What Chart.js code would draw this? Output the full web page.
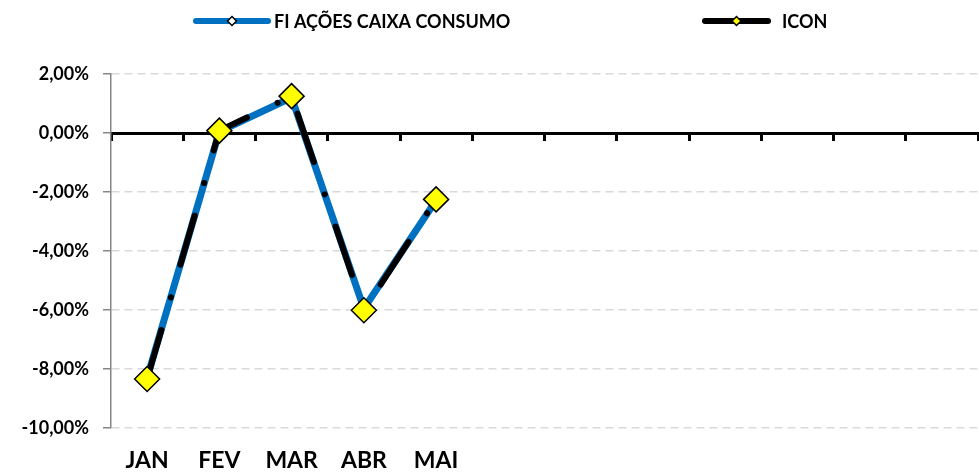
<!DOCTYPE html>
<html>
<head>
<meta charset="utf-8">
<script src="https://cdn.jsdelivr.net/npm/chart.js@4.4.1/dist/chart.umd.min.js"></script>
<style>
  html, body { margin: 0; padding: 0; background: #fff; }
  #wrap { width: 979px; height: 473px; }
</style>
</head>
<body>
<div id="wrap"><canvas id="perfChart"></canvas></div>
<script>
// monthly returns (%)
const months = ['JAN', 'FEV', 'MAR', 'ABR', 'MAI', '', '', '', '', '', '', ''];
const fundReturns = [-8.30, 0.05, 1.20, -5.95, -2.28];
const iconReturns = [-8.34, 0.08, 1.25, -6.01, -2.25];
const yMin = -10, yMax = 2, yStep = 2;

const FONT = 'Lato, "Open Sans", sans-serif';

function pct(v) {
    return v.toFixed(2).replace('.', ',') + '%';
}

function diamond(ctx, x, y, r, fill) {
    ctx.beginPath();
    ctx.moveTo(x - r, y);
    ctx.lineTo(x, y - r);
    ctx.lineTo(x + r, y);
    ctx.lineTo(x, y + r);
    ctx.closePath();
    ctx.fillStyle = fill;
    ctx.fill();
    ctx.lineWidth = 1.5;
    ctx.strokeStyle = '#000';
    ctx.stroke();
}

// legend row at the top: line sample + small marker + label
const topLegend = {
    id: 'topLegend',
    afterDraw(chart) {
        const ctx = chart.ctx;
        const slots = [
            { x0: 196, x1: 268, tx: 274 },
            { x0: 705, x1: 768, tx: 782 }
        ];
        const y = 21;
        ctx.save();
        chart.data.datasets.forEach((ds, i) => {
            const s = slots[i];
            ctx.beginPath();
            ctx.moveTo(s.x0, y);
            ctx.lineTo(s.x1, y);
            ctx.lineWidth = 6;
            ctx.lineCap = 'round';
            ctx.strokeStyle = ds.borderColor;
            ctx.stroke();
            diamond(ctx, (s.x0 + s.x1) / 2, y, 4.5, ds.pointBackgroundColor);
            ctx.font = 'bold 18px ' + FONT;
            ctx.fillStyle = '#000';
            ctx.textBaseline = 'middle';
            ctx.textAlign = 'left';
            ctx.fillText(ds.label, s.tx, y + 1);
        });
        ctx.restore();
    }
};

new Chart(document.getElementById('perfChart').getContext('2d'), {
    type: 'line',
    data: {
        labels: months,
        datasets: [{
            label: 'FI AÇÕES CAIXA CONSUMO',
            data: fundReturns,
            borderColor: '#0070c0',
            borderWidth: 7,
            borderCapStyle: 'round',
            borderJoinStyle: 'round',
            pointStyle: 'rectRot',
            pointRadius: 5,
            pointBackgroundColor: '#ffffff',
            pointBorderColor: '#000',
            pointBorderWidth: 1.5,
            tension: 0,
            order: 2
        }, {
            label: 'ICON',
            data: iconReturns,
            borderColor: '#000',
            borderWidth: 6,
            borderDash: [51, 34, 0.1, 34],
            borderCapStyle: 'round',
            borderJoinStyle: 'round',
            pointStyle: 'rectRot',
            pointRadius: 12.5,
            pointBackgroundColor: '#ffff00',
            pointBorderColor: '#000',
            pointBorderWidth: 1.5,
            tension: 0,
            order: 1
        }]
    },
    options: {
        responsive: true,
        maintainAspectRatio: false,
        animation: false,
        layout: {
            autoPadding: false,
            padding: { top: 74, right: 1, bottom: 0, left: 0 }
        },
        plugins: {
            legend: { display: false },
            tooltip: { enabled: false }
        },
        scales: {
            // axis line drawn through zero, tick marks only
            x: {
                type: 'category',
                position: { y: 0 },
                offset: true,
                grid: {
                    offset: true,
                    drawOnChartArea: false,
                    drawTicks: true,
                    tickLength: 6,
                    tickWidth: 3,
                    tickColor: '#000'
                },
                border: { display: true, color: '#000', width: 3 },
                ticks: { display: false }
            },
            // month names under the plot
            x2: {
                type: 'category',
                position: 'bottom',
                offset: true,
                grid: { display: false, drawTicks: false },
                border: { display: false },
                ticks: {
                    color: '#000',
                    font: { family: FONT, size: 23, weight: 'bold' },
                    padding: 19,
                    autoSkip: false,
                    maxRotation: 0
                },
                afterFit(scale) { scale.height = 45; }
            },
            y: {
                min: yMin,
                max: yMax,
                ticks: {
                    stepSize: yStep,
                    color: '#000',
                    padding: 14,
                    font: { family: FONT, size: 18, weight: 'bold' },
                    callback: v => pct(v)
                },
                grid: {
                    color: c => c.tick && c.tick.value === 0 ? 'rgba(0,0,0,0)' : '#d9d9d9',
                    lineWidth: 1.5,
                    tickLength: 8,
                    tickColor: '#868686'
                },
                border: { display: true, color: '#868686', width: 1.5, dash: [8, 5] },
                afterFit(scale) { scale.width = 111; }
            }
        }
    },
    plugins: [topLegend]
});
</script>
</body>
</html>
